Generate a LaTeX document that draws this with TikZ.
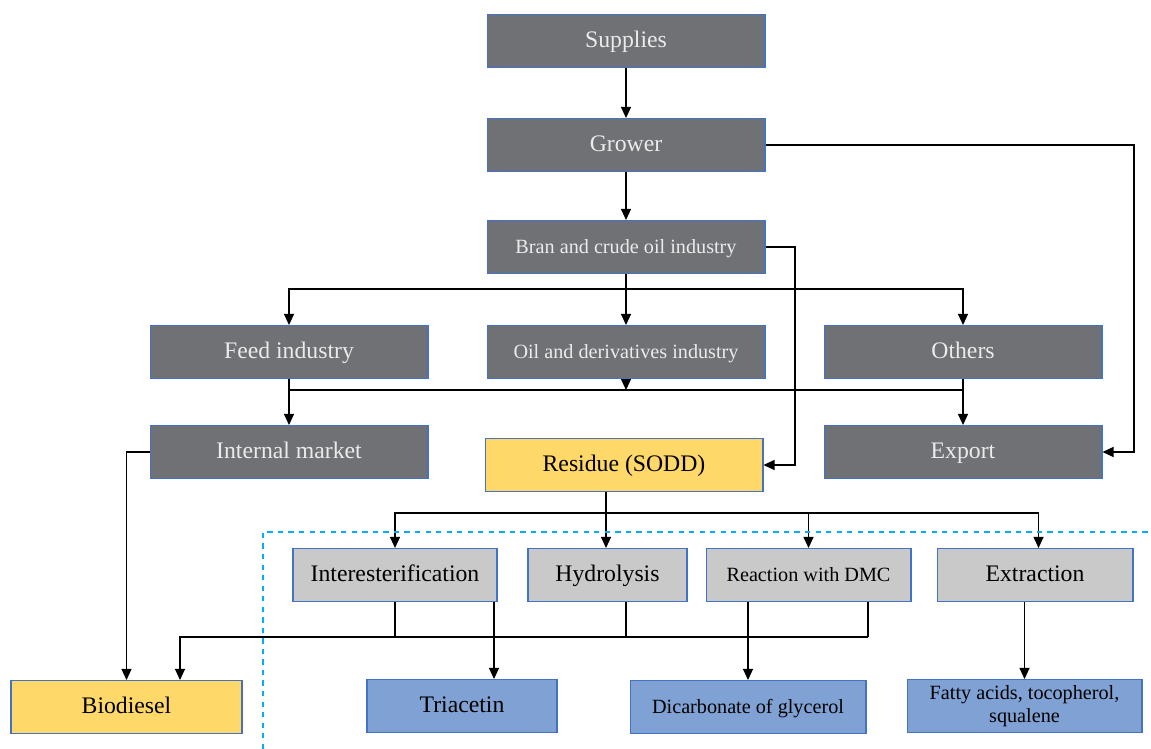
\documentclass[tikz,border=0pt]{standalone}
\usepackage{fontspec}
\setmainfont{Liberation Serif}
\usetikzlibrary{arrows.meta}
\definecolor{darkbox}{RGB}{112,113,117}
\definecolor{lightbox}{RGB}{201,201,201}
\definecolor{yellowbox}{RGB}{255,216,106}
\definecolor{bluebox}{RGB}{128,161,212}
\definecolor{boxline}{RGB}{68,114,196}
\definecolor{zoneline}{RGB}{0,176,240}
\begin{document}
\begin{tikzpicture}[x=0.02cm,y=-0.02cm,
	box/.style={draw=boxline,line width=0.6pt,inner sep=2pt,align=center,
		minimum height=1.06cm,text height=2ex,text depth=0.3ex},
	chain/.style={box,fill=darkbox,text=white!92!black,minimum width=5.56cm},
	stage/.style={box,fill=lightbox,text=black},
	product/.style={box,fill=bluebox,text=black},
	waste/.style={box,fill=yellowbox,text=black},
	big/.style={font=\fontsize{13.5}{16}\selectfont},
	small/.style={font=\fontsize{11.5}{13.5}\selectfont},
	flow/.style={line width=0.6pt,-{Triangle[length=2.2mm,width=2mm]}},
	tie/.style={line width=0.6pt}]
	\useasboundingbox (0,0) rectangle (1151,749);
	% supply chain
	\node[chain,big] (sup) at (626,41) {Supplies};
	\node[chain,big] (grow) at (626,145) {Grower};
	\node[chain,small] (bran) at (626,247) {Bran and crude oil industry};
	\node[chain,big] (feed) at (289,352) {Feed industry};
	\node[chain,small] (oil) at (626,352) {Oil and derivatives industry};
	\node[chain,big] (oth) at (963,352) {Others};
	\node[chain,big] (intm) at (289,452) {Internal market};
	\node[waste,big,minimum width=5.56cm] (res) at (624,465) {Residue (SODD)};
	\node[chain,big] (exp) at (963,452) {Export};
	% residue routes
	\node[stage,big,minimum width=4.08cm] (inter) at (395,575) {Interesterification};
	\node[stage,big,minimum width=3.18cm] (hyd) at (607.5,575) {Hydrolysis};
	\node[stage,small,minimum width=4.1cm] (dmc) at (808.5,575) {Reaction with DMC};
	\node[stage,big,minimum width=3.92cm] (extr) at (1035,575) {Extraction};
	\node[waste,big,minimum width=4.62cm] (bio) at (126.5,707) {Biodiesel};
	\node[product,big,minimum width=3.8cm] (tri) at (462,706) {Triacetin};
	\node[product,small,minimum width=4.72cm] (dic) at (748,707) {Dicarbonate of glycerol};
	\node[product,small,minimum width=4.7cm,text height=,text depth=] (fat) at (1024.5,706) {Fatty acids, tocopherol,\\squalene};
	% junctions
	\coordinate (splitA) at (626,289);
	\coordinate (mergeA) at (626,390);
	\coordinate (splitB) at (606,513);
	\coordinate (mergeR) at (868,637);
	\coordinate (mergeC) at (626,637);
	\coordinate (mergeL) at (180,637);
	% connectors
	\draw[flow] (sup) -- (grow);
	\draw[flow] (grow) -- (bran);
	\draw[flow] (grow.east) -- (1134,145) |- (exp.east);
	\draw[flow] (bran.east) -- (795,247) |- (res.east);
	\draw[flow] (bran) -- (oil);
	\draw[flow] (splitA) -| (feed.north);
	\draw[flow] (splitA) -| (oth.north);
	\draw[flow] (oil) -- (mergeA);
	\draw[tie] (feed.south |- mergeA) -- (oth.south |- mergeA);
	\draw[flow] (feed) -- (intm);
	\draw[flow] (oth) -- (exp);
	\draw[flow] (intm.west) -| (bio.north);
	\draw[tie] (splitB |- res.south) -- (splitB);
	\draw[flow] (splitB) -| (inter.north);
	\draw[flow] (splitB) -- (splitB |- hyd.north);
	\draw[flow] (splitB) -| (dmc.north);
	\draw[flow] (splitB) -| ([xshift=2pt]extr.north);
	\draw[tie] (inter.south) -- (inter.south |- mergeC);
	\draw[tie] (hyd.south -| mergeC) -- (mergeC);
	\draw[tie] (mergeR |- dmc.south) -- (mergeR);
	\draw[flow] (mergeR) -- (mergeL) -- (mergeL |- bio.north);
	\draw[flow] ([xshift=-2pt]inter.south east) -- ([xshift=-2pt]inter.south east |- tri.north);
	\draw[flow] (dmc.south -| dic.north) -- (dic.north);
	\draw[flow] (extr.south -| fat.north) -- (fat.north);
	% process zone
	\draw[zoneline,dashed,line width=0.8pt] (263,749) -- (263,532) -- (1151,532);
\end{tikzpicture}
\end{document}
